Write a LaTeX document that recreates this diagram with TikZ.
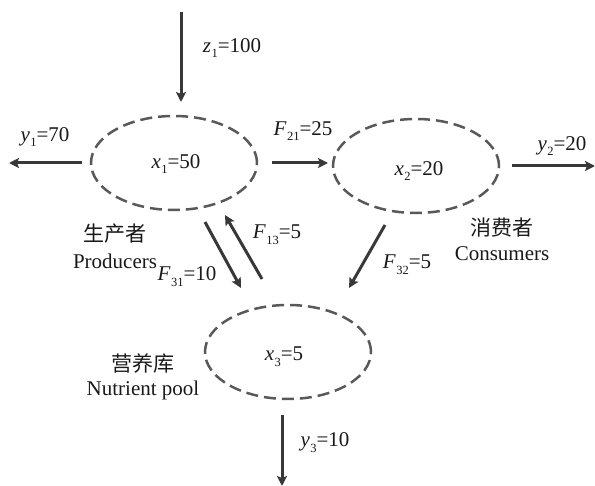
\documentclass[tikz,border=0pt]{standalone}
\usepackage{fontspec}
\setmainfont{Liberation Serif}
\newfontfamily\cjk{Noto Sans CJK SC}
\usetikzlibrary{arrows.meta,shapes.geometric}
\newcommand{\vsub}[2]{\textit{#1}\kern0.5pt\raisebox{-0.28em}{\fontsize{12.5}{13}\selectfont #2}}
\tikzset{
  ell/.style={ellipse, draw=black!65, dash pattern=on 12pt off 6pt, line width=2.5pt,
    minimum width=166pt, minimum height=94pt, inner sep=0pt},
  arr/.style={draw=black!78, line width=3pt, -{Stealth[length=10pt,width=10pt,inset=2pt]}},
  lab/.style={font=\fontsize{21}{25}\selectfont, inner sep=0pt, text=black!90},
}
\begin{document}
\begin{tikzpicture}[x=1pt,y=-1pt]
\useasboundingbox (0,0) rectangle (595,486);
% compartments
\node[ell] (e1) at (174,163) {};
\node[ell] (e2) at (416,166) {};
\node[ell] (e3) at (288,352) {};
% inner labels
\node[lab] (t1) at (176,164) {\vsub{x}{1}=50};
\node[lab] (t2) at (419,171) {\vsub{x}{2}=20};
\node[lab] (t3) at (284,357) {\vsub{x}{3}=5};
% arrow end points
\coordinate (zs) at (181,12);   \coordinate (ze) at (181,102);
\coordinate (y1s) at (82,163);  \coordinate (y1e) at (9,163);
\coordinate (f21s) at (272,163);\coordinate (f21e) at (328,163);
\coordinate (y2s) at (512,166); \coordinate (y2e) at (595,166);
\coordinate (f32s) at (385,225);\coordinate (f32e) at (349,288);
\coordinate (f31s) at (205,222);\coordinate (f31e) at (241,288);
\coordinate (f13s) at (262,279);\coordinate (f13e) at (225,215);
\coordinate (y3s) at (282,415); \coordinate (y3e) at (282,486);
% arrows
\draw[arr] (zs) -- (ze);
\draw[arr] (y1s) -- (y1e);
\draw[arr] (f21s) -- (f21e);
\draw[arr] (y2s) -- (y2e);
\draw[arr] (f32s) -- (f32e);
\draw[arr] (f31s) -- (f31e);
\draw[arr] (f13s) -- (f13e);
\draw[arr] (y3s) -- (y3e);
% flow labels
\node[lab] (lz) at (232,48) {\vsub{z}{1}=100};
\node[lab] (ly1) at (45,137) {\vsub{y}{1}=70};
\node[lab] (lf21) at (303,131) {\vsub{F}{21}=25};
\node[lab] (ly2) at (562,146) {\vsub{y}{2}=20};
\node[lab] (lf32) at (407,265) {\vsub{F}{32}=5};
\node[lab] (lf31) at (187,277) {\vsub{F}{31}=10};
\node[lab] (lf13) at (277,235) {\vsub{F}{13}=5};
\node[lab] (ly3) at (325,443) {\vsub{y}{3}=10};
% names
\node[lab] (c1) at (115,234) {\cjk 生产者};
\node[lab] (n1) at (115,261) {Producers};
\node[lab] (c2) at (502,228) {\cjk 消费者};
\node[lab] (n2) at (502,254) {Consumers};
\node[lab] (c3) at (143,363) {\cjk 营养库};
\node[lab] (n3) at (143,390) {Nutrient pool};
\end{tikzpicture}
\end{document}
